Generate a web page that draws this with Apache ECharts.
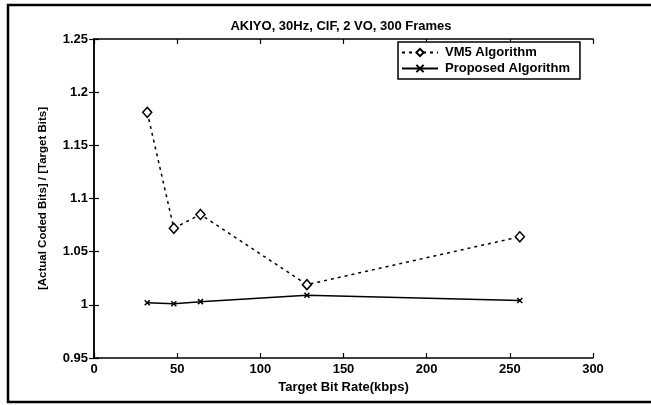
<!DOCTYPE html>
<html>
<head>
<meta charset="utf-8">
<script src="https://cdn.jsdelivr.net/npm/echarts@6/dist/echarts.min.js"></script>
<style>
  html, body { margin: 0; padding: 0; background: #fff; }
  #chart { width: 651px; height: 405px; }
</style>
</head>
<body>
<div id="chart"></div>
<script>
// Target bit rates (kbps)
const bitRates = [32, 48, 64, 128, 256];
// Ratio of actual coded bits to target bits
const vm5Ratio = [1.181, 1.072, 1.085, 1.019, 1.064];
const proposedRatio = [1.002, 1.001, 1.003, 1.009, 1.004];
// Axis ticks
const xTicks = [0, 50, 100, 150, 200, 250, 300];
const yTicks = [0.95, 1.0, 1.05, 1.1, 1.15, 1.2, 1.25];

const FONT = '"Liberation Sans", Arial, sans-serif';
const pairs = (xs, ys) => xs.map((x, i) => [x, ys[i]]);
const crossSymbol = 'path://M0,0L10,10M10,0L0,10';

const boxAxis = {
  axisLine: { show: true, lineStyle: { color: '#000', width: 1.5 } },
  axisTick: { show: true, inside: true, length: 5, lineStyle: { color: '#000', width: 1.2 } },
  splitLine: { show: false }
};

const chart = echarts.init(document.getElementById('chart'), null, { renderer: 'canvas' });
chart.setOption({
  backgroundColor: '#fff',
  animation: false,
  title: {
    text: 'AKIYO, 30Hz, CIF, 2 VO, 300 Frames',
    left: 336, top: 15, textAlign: 'center',
    textStyle: { fontFamily: FONT, fontSize: 13, fontWeight: 'bold', color: '#000' }
  },
  legend: {
    orient: 'vertical',
    left: 398, top: 42,
    itemWidth: 36, itemHeight: 9, itemGap: 3,
    padding: [4, 10, 4, 3],
    borderColor: '#000', borderWidth: 1.5,
    backgroundColor: '#fff',
    textStyle: { fontFamily: FONT, fontSize: 13, fontWeight: 'bold', color: '#000', padding: [0, 0, 0, 2] },
    data: ['VM5 Algorithm', 'Proposed Algorithm']
  },
  grid: { left: 94, right: 58, top: 39, bottom: 47 },
  xAxis: [
    Object.assign({}, boxAxis, {
      type: 'value', position: 'bottom', min: 0, max: 300, interval: 50,
      name: 'Target Bit Rate(kbps)', nameLocation: 'middle', nameGap: 22,
      nameTextStyle: { fontFamily: FONT, fontSize: 13, fontWeight: 'bold', color: '#000' },
      axisLabel: { fontFamily: FONT, fontSize: 13, fontWeight: 'bold', color: '#000', margin: 5,
        formatter: v => xTicks.includes(v) ? String(v) : '' }
    }),
    Object.assign({}, boxAxis, {
      type: 'value', position: 'top', min: 0, max: 300, interval: 50,
      axisLabel: { show: false }
    })
  ],
  yAxis: [
    Object.assign({}, boxAxis, {
      type: 'value', position: 'left', min: 0.95, max: 1.25, interval: 0.05,
      name: '[Actual Coded Bits] / [Target Bits]', nameLocation: 'middle', nameGap: 45,
      nameTextStyle: { fontFamily: FONT, fontSize: 11.5, fontWeight: 'bold', color: '#000' },
      axisLabel: { fontFamily: FONT, fontSize: 13, fontWeight: 'bold', color: '#000', margin: 6,
        formatter: v => {
          const t = yTicks.find(k => Math.abs(k - v) < 1e-6);
          return t === undefined ? '' : String(+t.toFixed(2));
        } }
    }),
    Object.assign({}, boxAxis, {
      type: 'value', position: 'right', min: 0.95, max: 1.25, interval: 0.05,
      axisLabel: { show: false }
    })
  ],
  graphic: [
    {
      type: 'rect', silent: true, z: 100,
      shape: { x: 8, y: 5, width: 700, height: 397 },
      style: { fill: 'none', stroke: '#000', lineWidth: 2.5 }
    }
  ],
  series: [
    {
      name: 'VM5 Algorithm', type: 'line', xAxisIndex: 0, yAxisIndex: 0,
      data: pairs(bitRates, vm5Ratio),
      symbol: 'diamond', symbolSize: [9, 10], showSymbol: true,
      lineStyle: { color: '#000', width: 1.5, type: [3, 4] },
      itemStyle: { color: '#fff', borderColor: '#000', borderWidth: 1.5 }
    },
    {
      name: 'Proposed Algorithm', type: 'line', xAxisIndex: 0, yAxisIndex: 0,
      data: pairs(bitRates, proposedRatio),
      symbol: crossSymbol, symbolSize: 5, showSymbol: true,
      lineStyle: { color: '#000', width: 1.5, type: 'solid' },
      itemStyle: { color: '#000', borderColor: '#000', borderWidth: 1.5 }
    }
  ]
});
</script>
</body>
</html>
